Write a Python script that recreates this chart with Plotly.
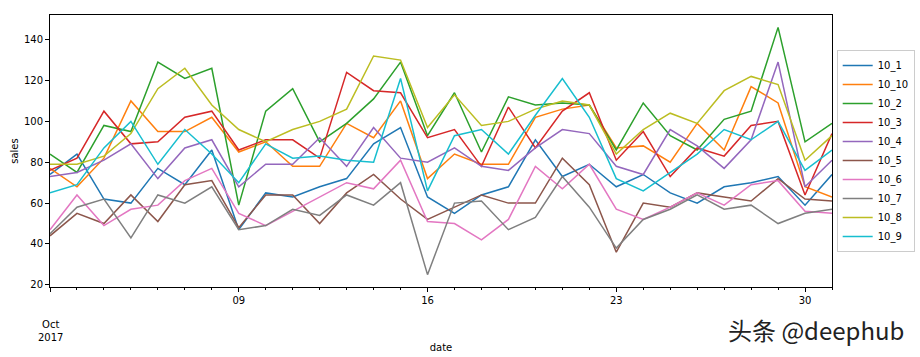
import pandas as pd
import plotly.graph_objects as go

dates = pd.date_range("2017-10-02", "2017-10-31", freq="D")

s_10_1 = [74, 84, 62, 60, 77, 69, 86, 47, 65, 63, 68, 72, 89, 97, 63, 55, 64, 68, 91, 73, 79, 68, 74, 65, 60, 68, 70, 73, 59, 74]
s_10_10 = [77, 68, 82, 110, 95, 95, 102, 85, 90, 78, 78, 99, 92, 110, 72, 84, 79, 79, 102, 106, 108, 87, 88, 80, 99, 86, 117, 109, 68, 63]
s_10_2 = [84, 75, 98, 95, 129, 121, 126, 59, 105, 116, 90, 99, 111, 129, 93, 114, 85, 112, 108, 109, 108, 86, 109, 93, 86, 101, 105, 146, 90, 99]
s_10_3 = [76, 82, 105, 89, 90, 102, 105, 86, 91, 91, 82, 124, 115, 114, 92, 96, 78, 107, 87, 105, 114, 81, 95, 73, 87, 83, 98, 100, 64, 94]
s_10_4 = [73, 75, 81, 89, 72, 87, 91, 68, 79, 79, 92, 78, 97, 82, 80, 87, 78, 76, 87, 96, 94, 78, 74, 96, 88, 77, 91, 129, 68, 81]
s_10_5 = [44, 55, 50, 64, 51, 69, 71, 48, 64, 64, 50, 65, 74, 62, 52, 58, 64, 60, 60, 82, 69, 36, 60, 58, 65, 63, 61, 72, 62, 61]
s_10_6 = [47, 64, 49, 57, 59, 71, 77, 55, 49, 56, 63, 70, 67, 81, 51, 50, 42, 52, 78, 67, 79, 57, 52, 58, 65, 59, 69, 71, 56, 55]
s_10_7 = [45, 58, 62, 43, 64, 60, 68, 47, 49, 57, 54, 64, 59, 70, 25, 60, 61, 47, 53, 73, 58, 38, 52, 57, 64, 57, 59, 50, 55, 57]
s_10_8 = [79, 79, 83, 94, 116, 126, 108, 96, 90, 96, 100, 106, 132, 130, 97, 113, 98, 100, 106, 110, 108, 84, 96, 104, 99, 115, 122, 118, 81, 93]
s_10_9 = [65, 69, 87, 100, 79, 96, 84, 70, 89, 82, 83, 81, 80, 121, 66, 93, 96, 84, 103, 121, 102, 72, 66, 75, 84, 96, 91, 100, 76, 86]

series_names = ["10_1", "10_10", "10_2", "10_3", "10_4", "10_5", "10_6", "10_7", "10_8", "10_9"]
series_values = [s_10_1, s_10_10, s_10_2, s_10_3, s_10_4, s_10_5, s_10_6, s_10_7, s_10_8, s_10_9]
colors = ["#1f77b4", "#ff7f0e", "#2ca02c", "#d62728", "#9467bd",
          "#8c564b", "#e377c2", "#7f7f7f", "#bcbd22", "#17becf"]

tick_dates = ["2017-10-02", "2017-10-09", "2017-10-16", "2017-10-23", "2017-10-30"]
tick_labels = ["", "09", "16", "23", "30"]
y_ticks = [20, 40, 60, 80, 100, 120, 140]

FONT = "DejaVu Sans"

fig = go.Figure()
for name, vals, c in zip(series_names, series_values, colors):
    fig.add_trace(go.Scatter(x=dates, y=vals, mode="lines", name=name,
                             line=dict(color=c, width=1.5)))

fig.update_layout(
    width=920, height=357,
    margin=dict(l=50, r=88, t=15, b=70, autoexpand=False),
    paper_bgcolor="white", plot_bgcolor="white",
    font=dict(family=FONT, size=10, color="black"),
    showlegend=True,
    legend=dict(x=1.006, xanchor="left", y=0.5, yanchor="middle",
                bgcolor="white", bordercolor="#cccccc", borderwidth=1,
                itemwidth=30,
                font=dict(family=FONT, size=10, color="black")),
    xaxis=dict(
        range=[dates[0], dates[-1]], automargin=False,
        tickmode="array", tickvals=tick_dates, ticktext=tick_labels,
        ticks="outside", ticklen=4, tickwidth=1, tickcolor="black",
        minor=dict(dtick=86400000, tick0="2017-10-02", ticks="outside", ticklen=2,
                   tickcolor="black", showgrid=False),
        showline=True, linecolor="black", linewidth=1, mirror=True,
        showgrid=False, zeroline=False,
        title=dict(text="date", standoff=38, font=dict(size=10)),
        tickfont=dict(size=10),
    ),
    yaxis=dict(
        range=[18.95, 152.05], automargin=False,
        tickmode="array", tickvals=y_ticks,
        ticks="outside", ticklen=4, tickwidth=1, tickcolor="black",
        showline=True, linecolor="black", linewidth=1, mirror=True,
        showgrid=False, zeroline=False,
        title=dict(text="sales", standoff=3, font=dict(size=10)),
        tickfont=dict(size=10),
    ),
)

fig.add_annotation(x="2017-10-02", xref="x", y=-0.11, yref="paper",
                   text="Oct<br>2017", showarrow=False, yanchor="top",
                   xanchor="center", font=dict(family=FONT, size=10, color="black"))

fig.add_annotation(x=1.095, xref="paper", y=-0.158, yref="paper",
                   text="头条 @deephub", showarrow=False, xanchor="right",
                   yanchor="middle",
                   font=dict(family="Noto Sans CJK SC", size=24, color="#222222"))

fig.write_html("out.html", config={"displayModeBar": False},
               post_script="document.body.style.margin='0';document.body.style.overflow='hidden';")
